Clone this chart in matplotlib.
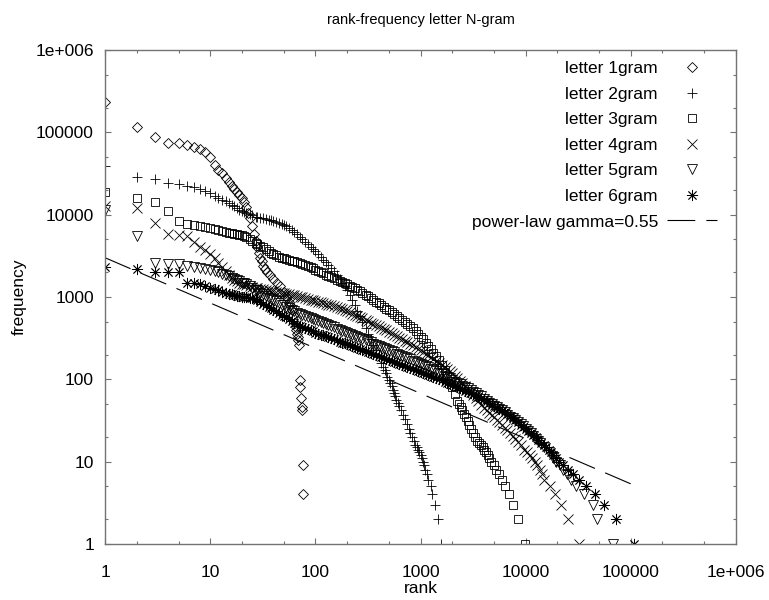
import matplotlib
matplotlib.use("Agg")
import matplotlib.pyplot as plt
from matplotlib.ticker import LogLocator, NullFormatter

plt.rcParams['font.family'] = ['Liberation Sans', 'DejaVu Sans']
plt.rcParams['lines.scale_dashes'] = False

# common rank grid used for the dense middle part of the curves
grid = [16, 17, 18, 19, 20, 21, 22, 24, 25, 27, 28, 30, 32, 34, 36, 38, 40, 42, 45, 48,
        50, 53, 56, 60, 63, 67, 71, 75, 80, 85, 90, 95, 100, 106, 112, 118, 125, 132, 140, 150,
        160, 170, 180, 190, 200, 212, 224, 236, 250, 265, 280, 300, 315, 335, 355, 375, 400, 425, 450, 475,
        500, 530, 560, 600, 630, 670, 710, 750, 800, 850, 900, 950, 1000, 1060, 1120, 1180, 1250, 1320, 1400, 1500,
        1600, 1700, 1800, 1900, 2000, 2120, 2240, 2360, 2500, 2650, 2800, 3000, 3150, 3350, 3550, 3750, 4000, 4250, 4500, 4750,
        5000, 5300, 5600, 6000, 6300, 6700, 7100, 7500, 8000, 8500, 9000, 9500, 10000, 10600, 11200, 11800, 12500, 13200, 14000, 15000]
head_rank = list(range(1, 16))

# letter 1gram
r_1gram = list(range(1, 34)) + [35, 37, 40, 43, 46, 50, 53, 56, 58, 60, 62, 64, 65, 66, 67, 68, 69, 70,
                                71, 72, 73, 74, 75, 76, 77]
f_1gram = [235000, 115000, 87000, 75000, 74000, 70500, 66000, 62500, 58500, 50800,
           40000, 35000, 32000, 28000, 25000, 22500, 20500, 19000, 17400, 16000,
           14400, 12500, 10500, 9100, 7200, 5800, 4800, 4000, 3400, 3000,
           2700, 2400, 2200,
           2000, 1850, 1650, 1500, 1350, 1150, 1000, 880, 800, 700,
           600, 480, 435, 400, 360, 330, 300, 262, 98, 81,
           60, 46, 42, 9, 4]

# letter 2gram
head_2gram = [39000, 29000, 27000, 24500, 23600, 22500, 21500, 20500, 19500, 18200,
              17000, 16000, 15200, 14500, 13800]
mid_2gram = [13200, 12600, 12000, 11500, 11000, 10700, 10500, 10100, 9800, 9500,
             9300, 9150, 9000, 8850, 8700, 8550, 8400, 8250, 8000, 7700,
             7500, 7200, 6900, 6500, 6200, 5800, 5400, 5050, 4700, 4400,
             4100, 3850, 3600, 3350, 3100, 2850, 2650, 2450, 2250, 2050,
             1850, 1650, 1500, 1350, 1200, 1050, 910, 790, 680, 590,
             500, 420, 360, 310, 260, 225, 190, 160]
tail_r_2gram = [440, 455, 470, 485, 500, 515, 530, 545, 560, 575, 590, 605, 620, 650, 680, 710, 740,
                770, 800, 830, 860, 890, 920, 950, 975, 1000, 1025, 1050, 1080, 1110, 1150, 1190,
                1250, 1300, 1370, 1480, 1580]
tail_f_2gram = [142, 130, 118, 108, 98, 90, 82, 75, 68, 62, 56, 52, 48, 42, 37, 33, 29,
                25, 22, 20, 18, 16, 15, 14, 13, 12, 11, 10, 9, 8, 7, 6,
                5, 4, 3, 2, 1]

# letter 3gram
head_3gram = [19000, 15800, 14400, 11000, 8300, 7800, 7500, 7300, 7100, 6900,
              6700, 6500, 6350, 6200, 6050]
mid_3gram = [5950, 5870, 5800, 5700, 5600, 5500, 5400, 5000, 4800, 4550,
             4400, 4200, 4000, 3800, 3600, 3470, 3350, 3250, 3100, 3010,
             2950, 2870, 2800, 2750, 2700, 2650, 2600, 2530, 2450, 2370,
             2300, 2220, 2150, 2070, 2000, 1930, 1870, 1810, 1750, 1680,
             1620, 1570, 1530, 1470, 1420, 1370, 1320, 1270, 1220, 1170,
             1120, 1060, 1020, 970, 930, 880, 840, 800, 760, 720,
             690, 650, 620, 590, 560, 530, 500, 475, 450, 420,
             390, 360, 330, 305, 280, 255, 235, 210, 190, 170,
             150, 130, 110, 95, 80, 67, 55]
tail_r_3gram = [2330, 2420, 2500, 2600, 2700, 2800, 2900, 3000, 3150, 3300, 3450, 3600, 3750, 3900,
                4050, 4200, 4350, 4500, 4700, 4950, 5250, 5600, 6000, 6400, 6900, 7500, 8500, 9800]
tail_f_3gram = [50, 46, 42, 38, 35, 31, 28, 25, 22, 20, 18, 17, 16, 15,
                14, 13, 12, 11, 10, 9, 8, 7, 6, 5, 4, 3, 2, 1]

# letter 4gram
head_4gram = [12600, 12000, 8000, 5900, 5700, 5500, 4600, 4100, 3700, 3300,
              3000, 2600, 2300, 2050, 1850]
mid_4gram = [1700, 1620, 1560, 1500, 1450, 1420, 1400, 1360, 1330, 1300,
             1280, 1260, 1250, 1230, 1210, 1195, 1180, 1165, 1150, 1130,
             1120, 1100, 1080, 1065, 1050, 1030, 1010, 990, 970, 950,
             930, 915, 900, 880, 865, 848, 830, 810, 790, 770,
             750, 730, 710, 690, 670, 650, 630, 610, 590, 570,
             550, 530, 510, 490, 472, 456, 440, 424, 410, 395,
             380, 365, 350, 335, 320, 307, 295, 282, 270, 258,
             246, 235, 225, 215, 205, 195, 185, 176, 167, 157,
             148, 140, 132, 125, 118, 110, 103, 96, 90, 83,
             77, 70, 65, 59, 54, 49, 45, 42, 39, 37,
             35, 32, 30, 28, 26, 24, 22, 20.5, 19, 17.5, 16]
tail_r_4gram = [9600, 10200, 10900, 11500, 12200, 12900, 13600, 14300, 15000, 17000, 19000, 21800, 25400, 31800]
tail_f_4gram = [14, 13, 12, 11, 10, 9, 8, 7, 6, 5, 4, 3, 2, 1]

# letter 5gram
head_5gram = [11500, 5500, 2600, 2550, 2500, 2400, 2300, 2250, 2200, 2150,
              2080, 2000, 1920, 1850, 1780]
mid_5gram = [1700, 1650, 1600, 1550, 1500, 1460, 1420, 1350, 1300, 1230,
             1200, 1120, 1080, 1030, 980, 950, 920, 890, 840, 810,
             790, 760, 730, 690, 670, 645, 620, 605, 590, 575,
             560, 545, 530, 515, 500, 485, 470, 457, 445, 428,
             410, 400, 390, 380, 370, 360, 350, 340, 330, 320,
             310, 300, 290, 281, 272, 263, 255, 247, 239, 232,
             225, 218, 212, 205, 198, 192, 186, 180, 175, 169,
             164, 160, 155, 150, 146, 141, 135, 131, 127, 121,
             115, 111, 107, 103, 98, 94, 91, 87, 84, 81,
             78, 74, 71, 68, 65, 62, 58, 55, 52, 50,
             48, 46, 44, 42, 40, 37, 35, 33.5, 32, 30,
             29, 27, 25, 23.5, 22, 20.5, 19, 18]
tail_r_5gram = [13600, 15000, 16500, 18000, 19500, 21000, 22500, 24500, 27000, 30000, 36000, 44000, 48000, 68000]
tail_f_5gram = [17, 15, 13, 11, 10, 9, 8, 7, 6, 5, 4, 3, 2, 1]

# letter 6gram
head_6gram = [2340, 2180, 2040, 2040, 2000, 1480, 1460, 1420, 1360, 1300,
              1250, 1200, 1160, 1130, 1100]
mid_6gram = [1080, 1060, 1040, 1025, 1010, 1000, 990, 970, 960, 935,
             920, 870, 830, 795, 760, 730, 700, 680, 640, 610,
             590, 565, 540, 510, 490, 470, 450, 435, 420, 407,
             395, 382, 370, 360, 350, 341, 332, 323, 315, 306,
             297, 288, 280, 273, 266, 259, 252, 246, 240, 233,
             227, 221, 215, 209, 203, 197, 192, 186, 181, 176,
             172, 167, 163, 158, 154, 149, 145, 141, 137, 133,
             130, 126, 123, 119, 116, 113, 110, 107, 104, 100,
             97, 94, 91, 88, 86, 83, 81, 78, 76, 73,
             71, 68, 66, 63, 61, 59, 57, 54, 52, 50,
             48, 46, 44, 42, 40, 38, 36, 34, 32, 30,
             28, 26.5, 25, 23.5, 22, 21, 20, 18.5, 17, 16]
tail_r_6gram = [15700, 16500, 17300, 18300, 19500, 20800, 22700, 25000, 28000, 32000, 37700, 46000, 55500, 73000, 108000]
tail_f_6gram = [15, 14, 13, 12, 11, 10, 9, 8, 7, 6, 5, 4, 3, 2, 1]

# power-law reference line (end points)
law_rank = [1, 110000]
law_freq = [3000, 5.1]

tick_vals = [1, 10, 100, 1000, 10000, 100000, 1000000]
tick_text = ['1', '10', '100', '1000', '10000', '100000', '1e+006']


def join(head, mid, tail_r, tail_f):
    r = head_rank + grid[:len(mid)] + tail_r
    f = head + mid + tail_f
    return r, f


r_2gram, f_2gram = join(head_2gram, mid_2gram, tail_r_2gram, tail_f_2gram)
r_3gram, f_3gram = join(head_3gram, mid_3gram, tail_r_3gram, tail_f_3gram)
r_4gram, f_4gram = join(head_4gram, mid_4gram, tail_r_4gram, tail_f_4gram)
r_5gram, f_5gram = join(head_5gram, mid_5gram, tail_r_5gram, tail_f_5gram)
r_6gram, f_6gram = join(head_6gram, mid_6gram, tail_r_6gram, tail_f_6gram)

fs = 12.5
fig = plt.figure(figsize=(7.69, 6.0), dpi=100)
ax = fig.add_axes([105 / 769, 56 / 600, 631 / 769, 494 / 600])

series = [
    (r_1gram, f_1gram, 'D', 5.0, 'letter 1gram'),
    (r_2gram, f_2gram, '+', 7.0, 'letter 2gram'),
    (r_3gram, f_3gram, 's', 6.0, 'letter 3gram'),
    (r_4gram, f_4gram, 'x', 7.0, 'letter 4gram'),
    (r_5gram, f_5gram, 'v', 6.5, 'letter 5gram'),
    (r_6gram, f_6gram, (8, 2, 0), 8.0, 'letter 6gram'),
]
for r, f, m, ms, lab in series:
    ax.plot(r, f, linestyle='none', marker=m, ms=ms, mfc='none', mec='k', mew=0.6, label=lab)

ax.plot(law_rank, law_freq, color='k', lw=0.8, dashes=(20, 8), label='power-law gamma=0.55')

ax.set_xscale('log')
ax.set_yscale('log')
ax.set_xlim(1, 1e6)
ax.set_ylim(1, 1e6)
ax.set_xticks(tick_vals, tick_text)
ax.set_yticks(tick_vals, tick_text)
for a in (ax.xaxis, ax.yaxis):
    a.set_minor_locator(LogLocator(base=10, subs=(2, 5)))
    a.set_minor_formatter(NullFormatter())

ax.tick_params(which='both', direction='in', top=True, right=True, color='0.45', width=0.8,
               labelsize=fs, labelcolor='k')
ax.tick_params(which='major', length=4)
ax.tick_params(which='minor', length=2.2)
ax.tick_params(axis='x', pad=15)
ax.tick_params(axis='y', pad=8)
for sp in ax.spines.values():
    sp.set_color('0.45')
    sp.set_linewidth(1.0)

ax.set_title('rank-frequency letter N-gram', fontsize=10.5, pad=19)
ax.set_xlabel('rank', fontsize=fs, labelpad=1)
ax.set_ylabel('frequency', fontsize=fs, labelpad=6)

ax.legend(loc='upper right', bbox_to_anchor=(1 - 19 / 631, 1 - 11 / 494), borderaxespad=0,
          borderpad=0, markerfirst=False, frameon=False, fontsize=fs, handlelength=2.9,
          handletextpad=0.5, labelspacing=0.6, numpoints=1)

fig.savefig('out.png', dpi=100)
